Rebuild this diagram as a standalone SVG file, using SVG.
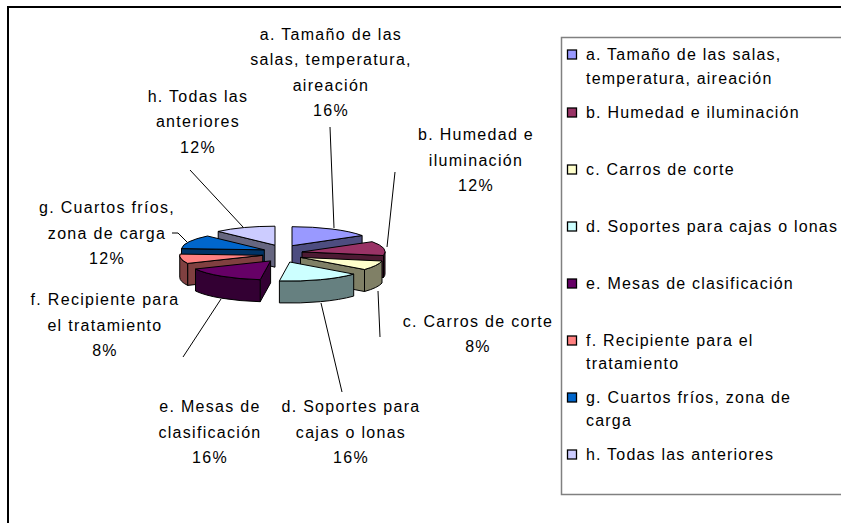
<svg xmlns="http://www.w3.org/2000/svg" width="841" height="523" viewBox="0 0 841 523">
<style>
.lbl{font-family:"Liberation Sans",Arial,sans-serif;font-size:16px;letter-spacing:1.3px;fill:#000;text-anchor:middle}
.leg{font-family:"Liberation Sans",Arial,sans-serif;font-size:16px;letter-spacing:1.2px;fill:#000}
.sl path{stroke:#000;stroke-width:1;stroke-linejoin:round}
.ln{fill:none;stroke:#000;stroke-width:1}
.sw{stroke:#000;stroke-width:1.3}
</style>
<rect x="0" y="0" width="841" height="523" fill="#fff"/>
<path d="M8,523 V7 H841" fill="none" stroke="#000" stroke-width="2"/>
<path d="M841,37.5 H561.5 V494.5 H841" fill="none" stroke="#808080" stroke-width="1.5"/>

<g id="connectors">
<path class="ln" d="M330,127 L334,228"/>
<path class="ln" d="M395,172 L387,247"/>
<path class="ln" d="M190,170 L243,227"/>
<path class="ln" d="M172,233 L178,233 L187,242"/>
<path class="ln" d="M221,299 L183,357"/>
<path class="ln" d="M321,303 L342,392"/>
<path class="ln" d="M378,291 L380,337"/>
</g>

<g id="slice-a" class="sl">
<path fill="#4D4D80" d="M292,245.7 L362.1,235.5 L362.1,257.5 L292,267.7 Z"/>
<path fill="#9999FF" d="M292,245.7 L292,226.7 A83 19 0 0 1 362.1,235.5 Z"/>
</g>
<g id="slice-h" class="sl">
<path fill="#666680" d="M275,245.2 L218.2,231.4 L218.2,253.4 L275,267.2 Z"/>
<path fill="#CCCCFF" d="M275,245.2 L218.2,231.4 A83 19 0 0 1 275,226.2 Z"/>
</g>
<g id="slice-b" class="sl">
<path fill="#4D1A33" d="M302,251.9 L383.5,255.5 L383.5,277.5 L302,273.9 Z"/>
<path fill="#4D1A33" d="M385,251.9 A83 19 0 0 1 383.5,255.5 L383.5,277.5 A83 19 0 0 0 385,273.9 Z"/>
<path fill="#993366" d="M302,251.9 L372.1,241.7 A83 19 0 0 1 383.5,255.5 Z"/>
</g>
<g id="slice-g" class="sl">
<path fill="#003366" d="M264.3,249.8 L181.5,248.6 L181.5,270.6 L264.3,271.8 Z"/>
<path fill="#0066CC" d="M264.3,249.8 L181.5,248.6 A83 19 0 0 1 207.5,236 Z"/>
</g>
<g id="slice-c" class="sl">
<path fill="#808066" d="M300.5,257.4 L364.5,269.5 L364.5,291.5 L300.5,279.4 Z"/>
<path fill="#808066" d="M382,261 A83 19 0 0 1 364.5,269.5 L364.5,291.5 A83 19 0 0 0 382,283 Z"/>
<path fill="#FFFFCC" d="M300.5,257.4 L382,261 A83 19 0 0 1 364.5,269.5 Z"/>
</g>
<g id="slice-f" class="sl">
<path fill="#804040" d="M262.75,255.3 L187.65,263.4 L187.65,285.4 L262.75,277.3 Z"/>
<path fill="#804040" d="M187.65,263.4 A83 19 0 0 1 179.75,255.3 L179.75,277.3 A83 19 0 0 0 187.65,285.4 Z"/>
<path fill="#FF8080" d="M262.75,255.3 L187.65,263.4 A83 19 0 0 1 179.9,254.1 Z"/>
</g>
<g id="slice-d" class="sl">
<path fill="#668080" d="M353.7,274.1 A83 19 0 0 1 279.4,280.9 L279.4,302.9 A83 19 0 0 0 353.7,296.1 Z"/>
<path fill="#CCFFFF" d="M289.8,262 L353.7,274.1 A83 19 0 0 1 279.4,280.9 Z"/>
</g>
<g id="slice-e" class="sl">
<path fill="#330033" d="M270.6,260.9 L260.2,279.7 L260.2,301.7 L270.6,282.9 Z"/>
<path fill="#330033" d="M260.2,279.7 A83 19 0 0 1 195.5,269 L195.5,291 A83 19 0 0 0 260.2,301.7 Z"/>
<path fill="#660066" d="M270.6,260.9 L260.2,279.7 A83 19 0 0 1 195.5,269 Z"/>
</g>

<g id="label-a"><text class="lbl" x="331" y="39.5">a. Tamaño de las</text><text class="lbl" x="331" y="65">salas, temperatura,</text><text class="lbl" x="331" y="90.5">aireación</text><text class="lbl" x="331" y="116">16%</text></g>
<g id="label-b"><text class="lbl" x="476" y="140">b. Humedad e</text><text class="lbl" x="476" y="165.5">iluminación</text><text class="lbl" x="476" y="191">12%</text></g>
<g id="label-c"><text class="lbl" x="478" y="327">c. Carros de corte</text><text class="lbl" x="478" y="352">8%</text></g>
<g id="label-d"><text class="lbl" x="351" y="412">d. Soportes para</text><text class="lbl" x="351" y="437.5">cajas o lonas</text><text class="lbl" x="351" y="463">16%</text></g>
<g id="label-e"><text class="lbl" x="210" y="412">e. Mesas de</text><text class="lbl" x="210" y="437.5">clasificación</text><text class="lbl" x="210" y="463">16%</text></g>
<g id="label-f"><text class="lbl" x="105" y="305">f. Recipiente para</text><text class="lbl" x="105" y="330.5">el tratamiento</text><text class="lbl" x="105" y="356">8%</text></g>
<g id="label-g"><text class="lbl" x="107" y="213">g. Cuartos fríos,</text><text class="lbl" x="107" y="238.5">zona de carga</text><text class="lbl" x="107" y="264">12%</text></g>
<g id="label-h"><text class="lbl" x="198" y="101.5">h. Todas las</text><text class="lbl" x="198" y="127">anteriores</text><text class="lbl" x="198" y="152.5">12%</text></g>

<g id="legend">
<rect class="sw" x="567.5" y="50" width="9" height="9" fill="#9999FF"/>
<text class="leg" x="586" y="60">a. Tamaño de las salas,</text>
<text class="leg" x="586" y="84">temperatura, aireación</text>
<rect class="sw" x="567.5" y="108" width="9" height="9" fill="#993366"/>
<text class="leg" x="586" y="117.5">b. Humedad e iluminación</text>
<rect class="sw" x="567.5" y="165" width="9" height="9" fill="#FFFFCC"/>
<text class="leg" x="586" y="174.5">c. Carros de corte</text>
<rect class="sw" x="567.5" y="222" width="9" height="9" fill="#CCFFFF"/>
<text class="leg" x="586" y="231.5">d. Soportes para cajas o lonas</text>
<rect class="sw" x="567.5" y="279" width="9" height="9" fill="#660066"/>
<text class="leg" x="586" y="288.5">e. Mesas de clasificación</text>
<rect class="sw" x="567.5" y="336" width="9" height="9" fill="#FF8080"/>
<text class="leg" x="586" y="345.5">f. Recipiente para el</text>
<text class="leg" x="586" y="368.5">tratamiento</text>
<rect class="sw" x="567.5" y="393" width="9" height="9" fill="#0066CC"/>
<text class="leg" x="586" y="402.5">g. Cuartos fríos, zona de</text>
<text class="leg" x="586" y="425.5">carga</text>
<rect class="sw" x="567.5" y="450" width="9" height="9" fill="#CCCCFF"/>
<text class="leg" x="586" y="459.5">h. Todas las anteriores</text>
</g>
</svg>
